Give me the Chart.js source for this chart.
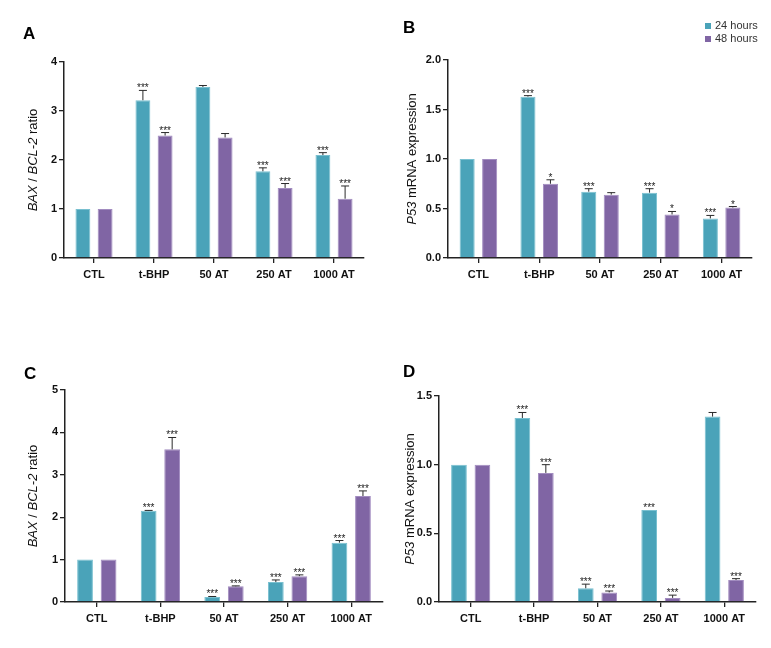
<!DOCTYPE html>
<html>
<head>
<meta charset="utf-8">
<script src="https://cdn.jsdelivr.net/npm/chart.js@4.4.1/dist/chart.umd.min.js"></script>
<style>
  body { margin: 0; background: #fff; }
  #wrap { position: relative; width: 771px; height: 648px; overflow: hidden; }
  canvas { position: absolute; }
  .letter { position: absolute; font: bold 17px Arial, "Liberation Sans", sans-serif; color: #000; line-height: 17px; }
</style>
</head>
<body>
<div id="wrap">
  <canvas id="chartA" width="385" height="320" style="left:0;top:0"></canvas>
  <canvas id="chartB" width="386" height="320" style="left:385px;top:0"></canvas>
  <canvas id="chartC" width="385" height="328" style="left:0;top:320px"></canvas>
  <canvas id="chartD" width="386" height="328" style="left:385px;top:320px"></canvas>
  <div class="letter" style="left:23px;top:25px">A</div>
  <div class="letter" style="left:403px;top:19px">B</div>
  <div class="letter" style="left:24px;top:365px">C</div>
  <div class="letter" style="left:403px;top:363px">D</div>
</div>
<script>
const categories = ["CTL", "t-BHP", "50 AT", "250 AT", "1000 AT"];
const seriesNames = ["24 hours", "48 hours"];

// panel A - BAX/BCL-2
const a24 = [1, 3.22, 3.49, 1.77, 2.10];
const a24Err = [0, 0.20, 0.03, 0.07, 0.05];
const a24Sig = ["", "***", "", "***", "***"];
const a48 = [1, 2.50, 2.46, 1.43, 1.21];
const a48Err = [0, 0.06, 0.08, 0.09, 0.26];
const a48Sig = ["", "***", "", "***", "***"];

// panel B - P53
const b24 = [1, 1.63, 0.67, 0.66, 0.40];
const b24Err = [0, 0.01, 0.03, 0.04, 0.03];
const b24Sig = ["", "***", "***", "***", "***"];
const b48 = [1, 0.75, 0.64, 0.44, 0.51];
const b48Err = [0, 0.04, 0.02, 0.03, 0.01];
const b48Sig = ["", "*", "", "*", "*"];

// panel C - BAX/BCL-2
const c24 = [1, 2.15, 0.12, 0.47, 1.40];
const c24Err = [0, 0.01, 0.01, 0.05, 0.05];
const c24Sig = ["", "***", "***", "***", "***"];
const c48 = [1, 3.60, 0.37, 0.61, 2.50];
const c48Err = [0, 0.28, 0.01, 0.03, 0.12];
const c48Sig = ["", "***", "***", "***", "***"];

// panel D - P53
const d24 = [1, 1.34, 0.10, 0.67, 1.35];
const d24Err = [0, 0.04, 0.03, 0, 0.03];
const d24Sig = ["", "***", "***", "***", ""];
const d48 = [1, 0.94, 0.07, 0.03, 0.16];
const d48Err = [0, 0.06, 0.01, 0.02, 0.01];
const d48Sig = ["", "***", "***", "***", "***"];

const FONT = 'Arial, "Liberation Sans", Helvetica, sans-serif';
const TEAL = "#4aa3b9";
const PURPLE = "#8065a4";

const baxTitle = [["BAX", true], [" / ", false], ["BCL-2", true], [" ratio", false]];
const p53Title = [["P53", true], [" mRNA expression", false]];

// error bars + significance stars
const errorBars = {
  id: "errorBars",
  afterDatasetsDraw(chart) {
    const ctx = chart.ctx;
    const y = chart.scales.y;
    chart.data.datasets.forEach((ds, i) => {
      const meta = chart.getDatasetMeta(i);
      meta.data.forEach((bar, j) => {
        const top = y.getPixelForValue(ds.data[j] + ds.errors[j]);
        ctx.save();
        if (ds.errors[j] > 0) {
          ctx.strokeStyle = "#2a2a2a";
          ctx.lineWidth = 1;
          ctx.beginPath();
          ctx.moveTo(bar.x, bar.y);
          ctx.lineTo(bar.x, top);
          ctx.moveTo(bar.x - 4, top);
          ctx.lineTo(bar.x + 4, top);
          ctx.stroke();
        }
        if (ds.stars[j]) {
          ctx.fillStyle = "#222";
          ctx.font = "10px " + FONT;
          ctx.textAlign = "center";
          ctx.textBaseline = "alphabetic";
          ctx.fillText(ds.stars[j], bar.x, top + 1);
        }
        ctx.restore();
      });
    });
  }
};

// y title with italic gene names
const yTitle = {
  id: "yTitle",
  afterDraw(chart, args, opts) {
    const ctx = chart.ctx;
    const area = chart.chartArea;
    ctx.save();
    ctx.translate(opts.x, (area.top + area.bottom) / 2);
    ctx.rotate(-Math.PI / 2);
    ctx.fillStyle = "#111";
    ctx.textBaseline = "middle";
    ctx.textAlign = "left";
    let total = 0;
    opts.parts.forEach(p => {
      ctx.font = (p[1] ? "italic " : "") + "13px " + FONT;
      total += ctx.measureText(p[0]).width;
    });
    let x = -total / 2;
    opts.parts.forEach(p => {
      ctx.font = (p[1] ? "italic " : "") + "13px " + FONT;
      ctx.fillText(p[0], x, 0);
      x += ctx.measureText(p[0]).width;
    });
    ctx.restore();
  }
};

// small legend in the top right corner of panel B
const cornerLegend = {
  id: "cornerLegend",
  afterDraw(chart, args, opts) {
    if (!opts.show) return;
    const ctx = chart.ctx;
    ctx.save();
    chart.data.datasets.forEach((ds, i) => {
      const yy = opts.y + i * 13;
      ctx.fillStyle = ds.backgroundColor;
      ctx.fillRect(opts.x, yy - 3, 6, 6);
      ctx.fillStyle = "#333";
      ctx.font = "11px " + FONT;
      ctx.textBaseline = "middle";
      ctx.fillText(ds.label, opts.x + 10, yy);
    });
    ctx.restore();
  }
};

function makePanel(id, m24, e24, s24, m48, e48, s48, yMax, yStep, decimals, titleParts, area, titleX, legend) {
  const canvas = document.getElementById(id);
  const yW = 40, xH = 30;
  return new Chart(canvas, {
    type: "bar",
    data: {
      labels: categories,
      datasets: [
        { label: seriesNames[0], data: m24, errors: e24, stars: s24,
          backgroundColor: TEAL, borderColor: "#79c0d0", borderWidth: 1,
          categoryPercentage: 0.74, barPercentage: 0.67 },
        { label: seriesNames[1], data: m48, errors: e48, stars: s48,
          backgroundColor: PURPLE, borderColor: "#a28cc0", borderWidth: 1,
          categoryPercentage: 0.74, barPercentage: 0.67 }
      ]
    },
    options: {
      responsive: false,
      animation: false,
      layout: {
        padding: {
          left: area.left - yW,
          top: area.top,
          right: canvas.width - area.right,
          bottom: canvas.height - area.bottom - xH
        }
      },
      plugins: {
        legend: { display: false },
        tooltip: { enabled: false },
        yTitle: { x: titleX, parts: titleParts },
        cornerLegend: legend
      },
      scales: {
        x: {
          afterFit: s => { s.height = xH; },
          grid: { display: true, drawOnChartArea: false, drawTicks: true, tickLength: 5,
                  offset: false, color: "#222", lineWidth: 1.3 },
          border: { display: true, color: "#222", width: 1.5 },
          ticks: { color: "#111", padding: 5, font: { family: FONT, size: 11, weight: "bold" } }
        },
        y: {
          min: 0,
          max: yMax,
          afterFit: s => { s.width = yW; },
          grid: { display: true, drawOnChartArea: false, drawTicks: true, tickLength: 5,
                  color: "#222", lineWidth: 1.3 },
          border: { display: true, color: "#222", width: 1.5 },
          ticks: {
            stepSize: yStep,
            color: "#111",
            padding: 2,
            font: { family: FONT, size: 11, weight: "bold" },
            callback: v => v.toFixed(decimals)
          }
        }
      }
    },
    plugins: [errorBars, yTitle, cornerLegend]
  });
}

makePanel("chartA", a24, a24Err, a24Sig, a48, a48Err, a48Sig, 4, 1, 0, baxTitle,
  { left: 64, top: 62, right: 364, bottom: 258 }, 33, { show: false });
makePanel("chartB", b24, b24Err, b24Sig, b48, b48Err, b48Sig, 2, 0.5, 1, p53Title,
  { left: 63, top: 60, right: 367, bottom: 258 }, 27, { show: true, x: 320, y: 26 });
makePanel("chartC", c24, c24Err, c24Sig, c48, c48Err, c48Sig, 5, 1, 0, baxTitle,
  { left: 65, top: 70, right: 383, bottom: 282 }, 33, { show: false });
makePanel("chartD", d24, d24Err, d24Sig, d48, d48Err, d48Sig, 1.5, 0.5, 1, p53Title,
  { left: 54, top: 76, right: 371, bottom: 282 }, 25, { show: false });
</script>
</body>
</html>
